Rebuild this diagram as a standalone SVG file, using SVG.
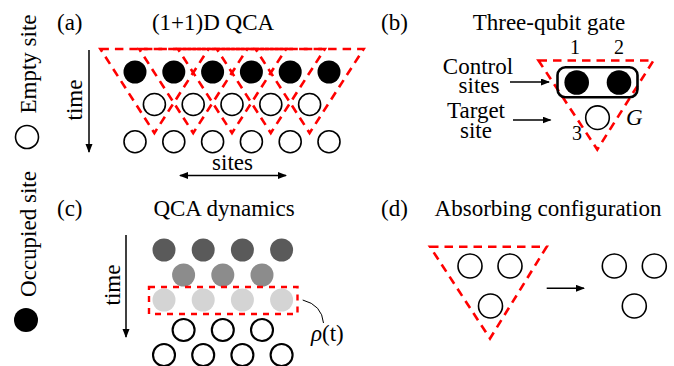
<svg xmlns="http://www.w3.org/2000/svg" width="674" height="366" viewBox="0 0 674 366">
  <style>
    text { font-family: "Liberation Serif", "Times New Roman", serif; font-size: 23px; fill: #000; }
    .num { font-size: 20px; }
    .empty { fill: #fff; stroke: #000; stroke-width: 1.6; }
    .empty2 { fill: #fff; stroke: #000; stroke-width: 2.1; }
    .full { fill: #000; }
    .tri { fill: none; stroke: #ff0000; stroke-width: 2.6; stroke-dasharray: 8.5 6; stroke-linejoin: miter; }
    .box { fill: none; stroke: #ff0000; stroke-width: 2.4; stroke-dasharray: 6 6; }
    .arrow { stroke: #000; stroke-width: 1.5; fill: none; }
  </style>
  <defs>
    <marker id="head" markerUnits="userSpaceOnUse" markerWidth="10" markerHeight="8" refX="8" refY="3.5" orient="auto-start-reverse">
      <path d="M0,0 L9,3.5 L0,7 z" fill="#000"/>
    </marker>
  </defs>

  <!-- legend -->
  <g id="legend">
    <text transform="translate(36,64) rotate(-90)" text-anchor="middle">Empty site</text>
    <circle class="empty" cx="27" cy="137" r="11.5"/>
    <text transform="translate(36,234) rotate(-90)" text-anchor="middle">Occupied site</text>
    <circle class="full" cx="26" cy="320" r="12"/>
  </g>

  <!-- (a) (1+1)D QCA -->
  <g id="panel-a">
    <text x="57" y="30">(a)</text>
    <text x="213" y="30" text-anchor="middle">(1+1)D QCA</text>
    <text transform="translate(81.5,100) rotate(-90)" text-anchor="middle">time</text>
    <text x="232.5" y="170" text-anchor="middle">sites</text>
    <g id="row-a1">
      <circle class="full" cx="135" cy="72" r="11.5"/>
      <circle class="full" cx="173.8" cy="72" r="11.5"/>
      <circle class="full" cx="212.6" cy="72" r="11.5"/>
      <circle class="full" cx="251.4" cy="72" r="11.5"/>
      <circle class="full" cx="290.2" cy="72" r="11.5"/>
      <circle class="full" cx="329" cy="72" r="11.5"/>
    </g>
    <g id="row-a2">
      <circle class="empty" cx="154.4" cy="104.5" r="11"/>
      <circle class="empty" cx="193.2" cy="104.5" r="11"/>
      <circle class="empty" cx="232" cy="104.5" r="11"/>
      <circle class="empty" cx="270.8" cy="104.5" r="11"/>
      <circle class="empty" cx="309.6" cy="104.5" r="11"/>
    </g>
    <g id="row-a3">
      <circle class="empty" cx="135" cy="141.7" r="11"/>
      <circle class="empty" cx="173.8" cy="141.7" r="11"/>
      <circle class="empty" cx="212.6" cy="141.7" r="11"/>
      <circle class="empty" cx="251.4" cy="141.7" r="11"/>
      <circle class="empty" cx="290.2" cy="141.7" r="11"/>
      <circle class="empty" cx="329" cy="141.7" r="11"/>
    </g>
    <g id="gates-a">
      <path class="tri" d="M100.4,49 H208.4 L154.4,133 Z"/>
      <path class="tri" d="M139.2,49 H247.2 L193.2,133 Z"/>
      <path class="tri" d="M178,49 H286 L232,133 Z"/>
      <path class="tri" d="M216.8,49 H324.8 L270.8,133 Z"/>
      <path class="tri" d="M255.6,49 H363.6 L309.6,133 Z"/>
    </g>
  </g>

  <!-- (b) three-qubit gate -->
  <g id="panel-b">
    <text x="381" y="30">(b)</text>
    <text x="549" y="30" text-anchor="middle">Three-qubit gate</text>
    <text class="num" x="575" y="53.5" text-anchor="middle">1</text>
    <text class="num" x="619" y="53.5" text-anchor="middle">2</text>
    <text class="num" x="577" y="140" text-anchor="middle">3</text>
    <text x="626" y="125" font-style="italic">G</text>
    <text x="478" y="74" text-anchor="middle">Control</text>
    <text x="479" y="92.5" text-anchor="middle">sites</text>
    <text x="476" y="117.5" text-anchor="middle">Target</text>
    <text x="476" y="138" text-anchor="middle">site</text>
    <path class="tri" d="M538.5,60.5 H653.5 L597.3,149.5 Z"/>
    <rect x="557.5" y="67.3" width="80" height="30" rx="8" fill="none" stroke="#000" stroke-width="2.6"/>
    <circle class="full" cx="576.7" cy="82.5" r="12.3"/>
    <circle class="full" cx="619" cy="82.5" r="12.3"/>
    <circle class="empty" cx="597.5" cy="117.7" r="11.8"/>
  </g>

  <!-- (c) QCA dynamics -->
  <g id="panel-c">
    <text x="57" y="216">(c)</text>
    <text x="224" y="216" text-anchor="middle">QCA dynamics</text>
    <text transform="translate(120,285) rotate(-90)" text-anchor="middle">time</text>
    <g id="row-c1" fill="#5a5a5a">
      <circle cx="164" cy="250" r="11.5"/>
      <circle cx="203.2" cy="250" r="11.5"/>
      <circle cx="242.4" cy="250" r="11.5"/>
      <circle cx="281.6" cy="250" r="11.5"/>
    </g>
    <g id="row-c2" fill="#8c8c8c">
      <circle cx="183.6" cy="275" r="11.5"/>
      <circle cx="222.8" cy="275" r="11.5"/>
      <circle cx="262" cy="275" r="11.5"/>
    </g>
    <g id="row-c3" fill="#d4d4d4">
      <circle cx="164" cy="300" r="11.5"/>
      <circle cx="203.2" cy="300" r="11.5"/>
      <circle cx="242.4" cy="300" r="11.5"/>
      <circle cx="281.6" cy="300" r="11.5"/>
    </g>
    <rect class="box" x="149" y="287" width="148.5" height="27"/>
    <g id="row-c4">
      <circle class="empty2" cx="183.6" cy="330" r="11"/>
      <circle class="empty2" cx="222.8" cy="330" r="11"/>
      <circle class="empty2" cx="262" cy="330" r="11"/>
    </g>
    <g id="row-c5">
      <circle class="empty2" cx="164" cy="355" r="11"/>
      <circle class="empty2" cx="203.2" cy="355" r="11"/>
      <circle class="empty2" cx="242.4" cy="355" r="11"/>
      <circle class="empty2" cx="281.6" cy="355" r="11"/>
    </g>
    <path d="M302.7,300 Q322,305 323.5,323" fill="none" stroke="#000" stroke-width="1"/>
    <text x="311" y="341"><tspan font-style="italic">ρ</tspan>(t)</text>
  </g>

  <!-- (d) absorbing configuration -->
  <g id="panel-d">
    <text x="381" y="216">(d)</text>
    <text x="548" y="216" text-anchor="middle">Absorbing configuration</text>
    <path class="tri" d="M430,246.7 H546.7 L490,338.5 Z"/>
    <circle class="empty" cx="470" cy="266" r="12"/>
    <circle class="empty" cx="510" cy="266" r="12"/>
    <circle class="empty" cx="490.5" cy="306" r="12"/>
    <circle class="empty" cx="614.3" cy="266" r="12"/>
    <circle class="empty" cx="654.3" cy="266" r="12"/>
    <circle class="empty" cx="634.3" cy="306" r="12"/>
  </g>

  <!-- connectors -->
  <g id="connectors">
    <line class="arrow" x1="89" y1="50" x2="89" y2="152" marker-end="url(#head)"/>
    <line class="arrow" x1="180" y1="175.5" x2="286" y2="175.5" marker-start="url(#head)" marker-end="url(#head)"/>
    <line class="arrow" x1="510" y1="82" x2="549" y2="82" marker-end="url(#head)"/>
    <line class="arrow" x1="513" y1="120" x2="550.5" y2="120" marker-end="url(#head)"/>
    <line class="arrow" x1="126" y1="235" x2="126" y2="337" marker-end="url(#head)"/>
    <line class="arrow" x1="546.7" y1="288.3" x2="584" y2="288.3" marker-end="url(#head)"/>
  </g>
</svg>
